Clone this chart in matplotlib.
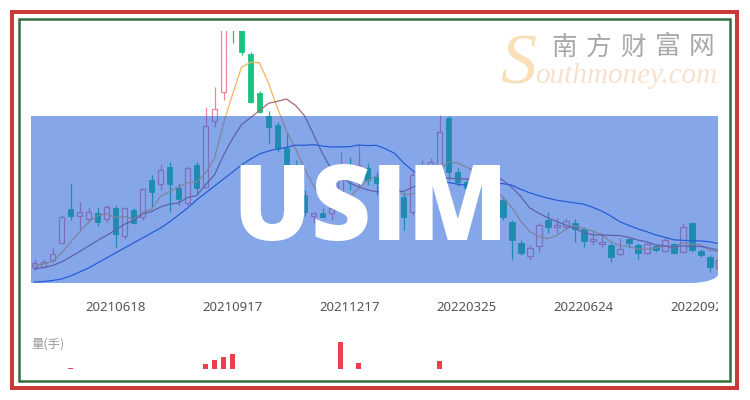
import matplotlib
matplotlib.use("Agg")
import matplotlib.pyplot as plt
from matplotlib.patches import Rectangle, PathPatch
from matplotlib.path import Path
import numpy as np

# weekly candles, 2021-04-16 .. 2022-09-30
dates = ["20210618", "20210917", "20211217", "20220325", "20220624", "20220923"]
date_idx = [9, 22, 35, 48, 61, 74]

opens = [3.33, 3.33, 4.00, 5.67, 9.10, 8.43, 8.07, 8.73, 8.07, 9.17,
         6.40, 9.00, 8.33, 12.00, 11.60, 13.33, 11.23, 9.67, 13.50, 11.33,
         17.93, 20.83, 28.20, 27.40, 24.57, 20.73, 18.37, 17.47, 15.25, 13.50,
         10.50, 8.40, 8.70, 8.67, 9.20, 12.80, 11.80, 13.20, 12.30, 11.60,
         10.70, 10.33, 8.83, 12.20, 13.00, 13.20, 18.17, 12.80, 11.80, 10.80,
         11.40, 10.60, 10.00, 7.83, 5.73, 4.40, 5.40, 8.00, 7.27, 7.27,
         7.65, 7.07, 5.93, 5.60, 5.50, 4.60, 6.07, 5.50, 4.67, 5.37,
         4.93, 5.60, 4.80, 7.67, 4.93, 4.27, 3.17]
closes = [3.73, 3.83, 4.60, 8.33, 8.43, 8.80, 8.80, 7.83, 9.27, 6.57,
          9.17, 7.73, 11.07, 10.83, 13.00, 11.57, 10.07, 13.17, 11.17, 17.40,
          19.07, 27.50, 27.60, 24.83, 19.83, 18.83, 17.30, 15.10, 13.50, 11.00,
          8.80, 8.73, 8.33, 9.17, 13.00, 12.00, 13.50, 12.00, 11.70, 10.50,
          10.00, 8.33, 12.50, 13.20, 13.80, 16.83, 12.80, 11.80, 11.20, 11.60,
          10.50, 10.00, 8.33, 6.00, 4.73, 5.17, 7.50, 7.27, 7.50, 7.93,
          7.07, 5.95, 6.07, 5.80, 4.33, 5.07, 5.67, 4.67, 5.60, 4.97,
          6.00, 4.73, 7.33, 4.97, 4.50, 3.33, 4.00]
highs = [4.10, 4.07, 5.33, 8.50, 11.70, 9.83, 9.30, 9.30, 9.50, 9.50,
         9.33, 9.17, 11.17, 12.50, 13.60, 13.83, 11.70, 13.40, 13.83, 19.30,
         21.33, 28.00, 28.60, 27.80, 24.83, 20.93, 18.90, 17.83, 16.60, 14.00,
         11.00, 8.83, 9.20, 9.33, 14.83, 14.33, 15.50, 13.70, 12.83, 12.20,
         11.20, 10.80, 12.83, 14.00, 14.20, 18.50, 18.40, 13.20, 12.20, 12.00,
         11.80, 11.00, 10.40, 8.00, 6.00, 5.50, 7.70, 8.83, 8.20, 8.20,
         8.10, 7.33, 7.00, 6.50, 5.70, 6.20, 6.20, 5.67, 5.73, 5.50,
         6.17, 5.73, 7.67, 7.73, 5.07, 4.50, 4.17]
lows = [3.00, 3.17, 3.83, 5.60, 8.00, 7.00, 7.70, 7.40, 7.83, 5.33,
        6.07, 7.60, 8.00, 9.33, 11.00, 8.83, 9.50, 9.50, 10.50, 11.20,
        17.27, 20.00, 25.67, 24.50, 19.67, 18.67, 15.75, 14.83, 12.33, 10.50,
        8.40, 7.67, 8.27, 8.00, 8.80, 11.00, 11.20, 11.50, 10.50, 10.00,
        9.00, 7.00, 8.50, 11.50, 12.40, 12.80, 12.00, 11.40, 10.80, 10.40,
        10.20, 9.50, 8.00, 4.00, 4.50, 4.00, 4.83, 6.67, 6.67, 7.00,
        5.83, 5.33, 5.50, 5.33, 3.80, 4.50, 5.17, 4.07, 4.60, 4.83,
        4.83, 4.67, 4.67, 4.83, 4.27, 2.83, 3.00]

ma5 = [3.45, 3.60, 3.85, 4.70, 5.78, 6.80, 7.79, 8.44, 8.63, 8.25,
       8.33, 8.11, 8.76, 9.07, 10.36, 10.84, 11.31, 11.73, 11.80, 12.68,
       14.18, 17.66, 20.55, 23.28, 23.77, 23.72, 21.68, 19.18, 16.91, 15.15,
       13.14, 11.43, 10.07, 9.21, 9.61, 10.25, 11.20, 11.93, 12.44, 11.94,
       11.54, 10.51, 10.61, 10.91, 11.57, 12.93, 13.83, 13.69, 13.29, 12.85,
       11.58, 11.02, 10.33, 9.29, 7.91, 6.85, 6.35, 6.13, 6.43, 7.07,
       7.45, 7.14, 6.90, 6.56, 5.84, 5.44, 5.39, 5.11, 5.07, 5.20,
       5.38, 5.19, 5.73, 5.60, 5.51, 4.97, 4.83]
ma10 = [3.10, 3.25, 3.45, 3.80, 4.30, 4.85, 5.40, 5.95, 6.45, 7.02,
        7.57, 7.95, 8.60, 8.85, 9.30, 9.59, 9.71, 10.25, 10.44, 11.52,
        12.51, 14.49, 16.14, 17.54, 18.23, 18.95, 19.67, 19.87, 20.10, 19.46,
        18.43, 16.56, 14.63, 13.06, 12.38, 11.70, 11.32, 11.00, 10.83, 10.78,
        10.90, 10.86, 11.27, 11.68, 11.76, 12.24, 12.17, 12.15, 12.10, 12.21,
        12.26, 12.43, 12.01, 11.29, 10.38, 9.22, 8.69, 8.23, 7.86, 7.49,
        7.15, 6.75, 6.52, 6.50, 6.46, 6.45, 6.27, 6.00, 5.82, 5.52,
        5.41, 5.29, 5.42, 5.34, 5.36, 5.18, 5.01]
ma20 = [1.80, 1.85, 1.95, 2.10, 2.40, 2.80, 3.20, 3.70, 4.20, 4.70,
        5.20, 5.70, 6.20, 6.70, 7.20, 7.80, 8.50, 9.20, 10.00, 10.70,
        11.40, 12.10, 12.80, 13.50, 14.10, 14.60, 14.90, 15.10, 15.27, 15.49,
        15.47, 15.53, 15.39, 15.30, 15.31, 15.33, 15.50, 15.44, 15.47, 15.12,
        14.67, 13.71, 12.95, 12.37, 12.07, 11.97, 11.75, 11.58, 11.47, 11.50,
        11.58, 11.65, 11.64, 11.49, 11.07, 10.73, 10.43, 10.19, 9.98, 9.85,
        9.71, 9.59, 9.27, 8.90, 8.42, 7.84, 7.48, 7.12, 6.84, 6.51,
        6.28, 6.02, 5.97, 5.92, 5.91, 5.82, 5.64]

vol_idx = [4, 19, 20, 21, 22, 34, 36, 45]
vol_val = [100, 500, 900, 1200, 1450, 2700, 600, 750]

W, H = 750, 400


def box(x0, y0, x1, y1):
    return [x0 / W, 1 - y1 / H, (x1 - x0) / W, (y1 - y0) / H]


def P(px, py):
    return (px / W, 1 - py / H)


fig = plt.figure(figsize=(7.5, 4), dpi=100)
fig.patch.set_facecolor("white")

XL = (-0.39, 75.94)
UP = "#f2849a"
DOWN = "#19c481"

ax = fig.add_axes(box(31, 31, 718, 290))
ax.set_xlim(*XL)
ax.set_ylim(1.0, 26.9)
ax.axis("off")

x = np.arange(len(opens))
o = np.array(opens)
c = np.array(closes)
up = c >= o
ax.vlines(x[up], np.array(lows)[up], np.array(highs)[up], color=UP, lw=0.9, zorder=2)
ax.vlines(x[~up], np.array(lows)[~up], np.array(highs)[~up], color=DOWN, lw=0.9, zorder=2)
ax.bar(x[up], (c - o)[up], bottom=o[up], width=0.66, color="white",
       edgecolor=UP, linewidth=0.9, zorder=3)
ax.bar(x[~up], (o - c)[~up], bottom=c[~up], width=0.66, color=DOWN,
       edgecolor=DOWN, linewidth=0.6, zorder=3)

ax.plot(x, ma5, color="#f2b45a", lw=0.9, zorder=4)
ax.plot(x, ma10, color="#a8687e", lw=0.9, zorder=4)
ax.plot(x, ma20, color="#2f5fd8", lw=0.9, zorder=4)

# date labels, clipped at the right edge of the plot
lab = fig.add_axes(box(31, 296, 718, 320))
lab.set_xlim(*XL)
lab.set_ylim(0, 1)
lab.axis("off")
for i, d in zip(date_idx, dates):
    lab.text(i, 0.52, d, ha="center", va="center", fontsize=9.5,
             color="#555555", family="Noto Sans", clip_on=True)

# volume
vax = fig.add_axes(box(31, 328.5, 718, 368.5))
vax.set_xlim(*XL)
vax.set_ylim(0, 4000)
vax.axis("off")
vax.bar(vol_idx, vol_val, width=0.66, color="#ec3f4c")
fig.text(31 / W, 1 - 344 / H, "量(手)", ha="left", va="center", fontsize=8.9,
         color="#9a9a9a", family=["Noto Sans CJK SC", "DejaVu Sans"])

# blue banner with rounded lower-right corner
rx, ry = 28, 9
verts = [P(31, 116), P(718, 116), P(718, 283 - ry),
         P(718, 283 - ry * 0.45), P(718 - rx * 0.45, 283), P(718 - rx, 283),
         P(31, 283), P(31, 116)]
codes = [Path.MOVETO, Path.LINETO, Path.LINETO,
         Path.CURVE4, Path.CURVE4, Path.CURVE4,
         Path.LINETO, Path.CLOSEPOLY]
banner = PathPatch(Path(verts, codes), transform=fig.transFigure,
                   facecolor=(0.13, 0.37, 0.84), alpha=0.55, edgecolor="none", zorder=5)
fig.add_artist(banner)

fig.text(370 / W, 1 - 240 / H, "USIM", ha="center", va="baseline", fontsize=75,
         fontweight="heavy", color="white", family="Open Sans", zorder=6)

# watermark
fig.text(500 / W, 1 - 84 / H, "S", ha="left", va="baseline", fontsize=52,
         style="italic", color="#fae0b8", family="Liberation Serif", zorder=6)
fig.text(535 / W, 1 - 83 / H, "outhmoney.com", ha="left", va="baseline", fontsize=21,
         style="italic", color="#f6e2cc", family="Liberation Serif", zorder=6)
for k, ch in enumerate("南方财富网"):
    fig.text((564 + 34.5 * k) / W, 1 - 47.5 / H, ch, ha="center", va="center",
             fontsize=18.5, color="#a8a8a8", family="Noto Sans CJK SC", zorder=6)

# double frame
fig.add_artist(Rectangle(P(12, 387.5), 725 / W, 375.5 / H, transform=fig.transFigure,
                         fill=False, edgecolor="#c93a3a", lw=2.9, zorder=7))
fig.add_artist(Rectangle(P(19, 380.5), 711 / W, 361.5 / H, transform=fig.transFigure,
                         fill=False, edgecolor="#336e3e", lw=1.8, zorder=7))

fig.savefig("out.png", dpi=100)
